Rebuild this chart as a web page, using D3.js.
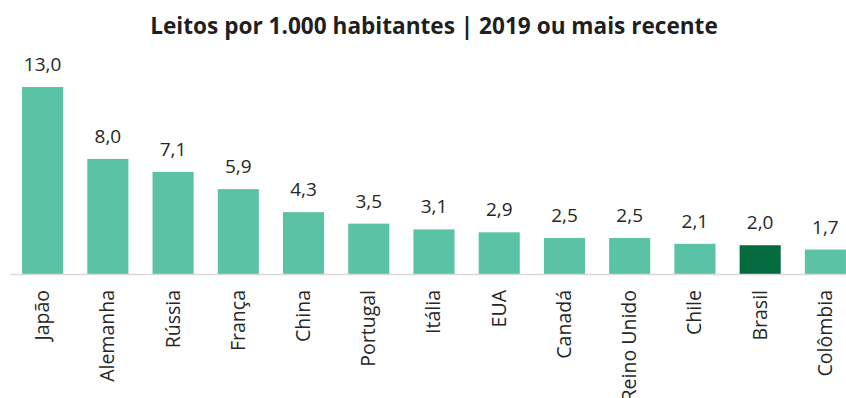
<!DOCTYPE html>
<html>
<head>
<meta charset="utf-8">
<script src="https://cdn.jsdelivr.net/npm/d3@7"></script>
<style>
  html, body { margin: 0; padding: 0; background: #fff; }
  svg { display: block; }
</style>
</head>
<body>
<svg id="chart" width="846" height="398"></svg>
<script>
// Hospital beds per 1,000 inhabitants, 2019 or latest available year
const countries = ["Japão", "Alemanha", "Rússia", "França", "China", "Portugal", "Itália",
                   "EUA", "Canadá", "Reino Unido", "Chile", "Brasil", "Colômbia"];
const beds = [13.0, 8.0, 7.1, 5.9, 4.3, 3.5, 3.1, 2.9, 2.5, 2.5, 2.1, 2.0, 1.7];
const highlight = "Brasil";
const titleText = "Leitos por 1.000 habitantes | 2019 ou mais recente";

const svg = d3.select("#chart");
const W = 846;
const baseY = 274;

const x = d3.scaleBand()
  .domain(countries)
  .range([10, 858])
  .paddingInner(0.37)
  .paddingOuter(0.185);

const y = d3.scaleLinear()
  .domain([0, 13])
  .range([baseY, 87]);

const fmt = v => d3.format(".1f")(v).replace(".", ",");

// title
svg.append("text")
  .attr("x", 434)
  .attr("y", 34)
  .attr("text-anchor", "middle")
  .attr("font-family", "'Open Sans', sans-serif")
  .attr("font-weight", "bold")
  .attr("font-size", 22.6)
  .attr("fill", "#1f1f1f")
  .text(titleText);

// bars
svg.append("g").selectAll("rect")
  .data(countries)
  .join("rect")
  .attr("x", d => x(d))
  .attr("width", x.bandwidth())
  .attr("y", (d, i) => y(beds[i]))
  .attr("height", (d, i) => y(0) - y(beds[i]))
  .attr("fill", d => d === highlight ? "#046b3f" : "#5bc3a5");

// value labels
svg.append("g").selectAll("text")
  .data(countries)
  .join("text")
  .attr("x", d => x(d) + x.bandwidth() / 2)
  .attr("y", (d, i) => y(beds[i]) - 16)
  .attr("text-anchor", "middle")
  .attr("font-family", "'Open Sans', sans-serif")
  .attr("font-size", 19)
  .attr("fill", "#262626")
  .text((d, i) => fmt(beds[i]));

// category axis
const axis = svg.append("g")
  .attr("transform", `translate(0,${baseY})`)
  .call(d3.axisBottom(x).tickSize(0).tickPadding(0));
axis.select(".domain").remove();
axis.append("line")
  .attr("x1", 11).attr("x2", W)
  .attr("y1", 0.5).attr("y2", 0.5)
  .attr("stroke", "#d9d9d9")
  .attr("stroke-width", 1.5);
axis.selectAll(".tick text")
  .attr("font-family", "'Open Sans', sans-serif")
  .attr("font-size", 19.5)
  .attr("fill", "#262626")
  .attr("text-anchor", "end")
  .attr("transform", "translate(0,16) rotate(-90)")
  .attr("x", 0)
  .attr("y", 0)
  .attr("dy", "0.33em");
</script>
</body>
</html>
